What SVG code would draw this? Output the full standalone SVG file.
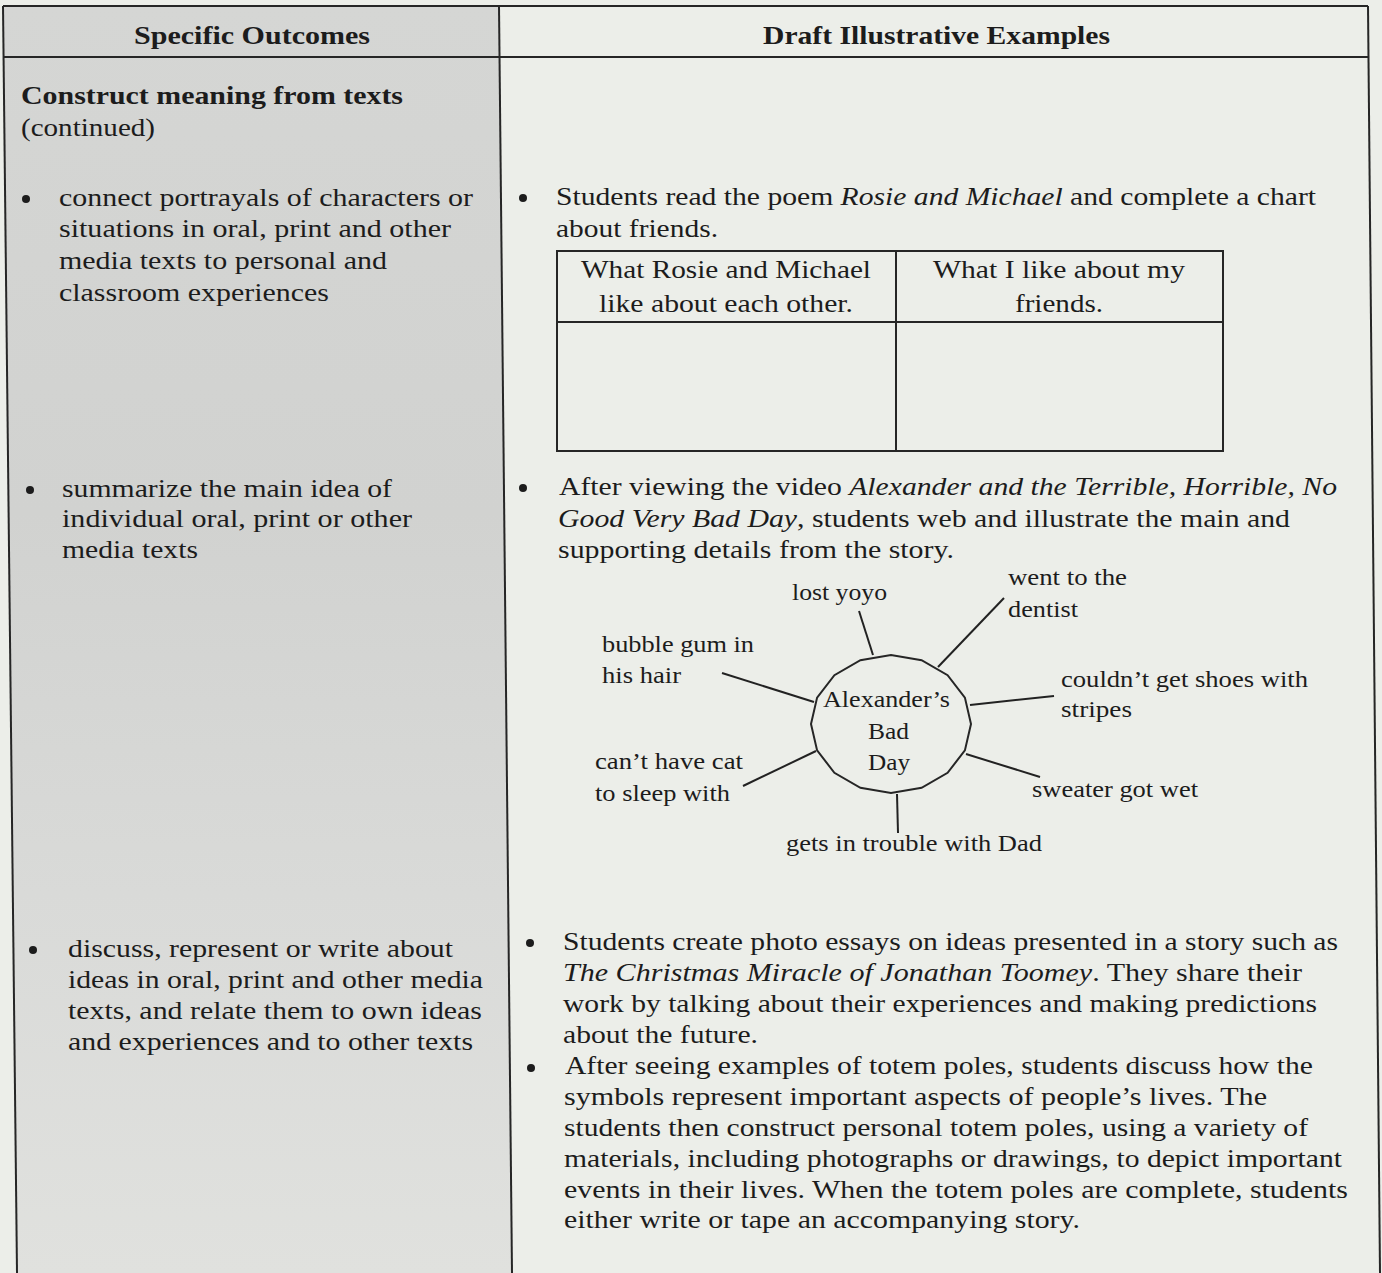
<svg xmlns="http://www.w3.org/2000/svg" width="1382" height="1273" viewBox="0 0 1382 1273">
<style>
text{font-family:"Liberation Serif","Times New Roman",serif;fill:#1c1c1c;}
.b{font-size:26px;}
.h{font-size:26px;font-weight:bold;}
.lbl{font-size:24px;}
.i{font-style:italic;}
.rule{stroke:#262626;stroke-width:2;fill:none;}
.con{stroke:#222;stroke-width:2;fill:none;}
.dot{fill:#1c1c1c;}
</style>
<defs>
<linearGradient id="lg" x1="0" y1="0" x2="0" y2="1">
<stop offset="0" stop-color="#d5d6d4"/>
<stop offset="0.4" stop-color="#d1d2d0"/>
<stop offset="0.7" stop-color="#d9dad8"/>
<stop offset="1" stop-color="#e0e1de"/>
</linearGradient>
</defs>
<rect x="0" y="0" width="1382" height="1273" fill="#eceee9"/>
<polygon points="3,6 499,6 512,1273 17,1273" fill="url(#lg)"/>
<polygon points="499,6 1368,6 1380,1273 512,1273" fill="#eceee9"/>

<g id="table-frame">
<line class="rule" x1="3" y1="6" x2="1368" y2="6"/>
<line class="rule" x1="3" y1="57" x2="1369" y2="57"/>
<line class="rule" x1="3" y1="6" x2="17" y2="1273"/>
<line class="rule" x1="499" y1="6" x2="512" y2="1273"/>
<line class="rule" x1="1368" y1="6" x2="1380" y2="1273"/>
</g>

<g id="header-left">
<text class="h" x="134" y="44" textLength="236" lengthAdjust="spacingAndGlyphs">Specific Outcomes</text>
</g>
<g id="header-right">
<text class="h" x="763" y="44" textLength="347" lengthAdjust="spacingAndGlyphs">Draft Illustrative Examples</text>
</g>

<g id="outcome-heading">
<text class="h" x="21" y="104" textLength="382" lengthAdjust="spacingAndGlyphs">Construct meaning from texts</text>
<text class="b" x="21" y="136" textLength="134" lengthAdjust="spacingAndGlyphs">(continued)</text>
</g>

<g id="outcome-1">
<circle class="dot" cx="26" cy="199" r="4"/>
<text class="b" x="59" y="206" textLength="414" lengthAdjust="spacingAndGlyphs">connect portrayals of characters or</text>
<text class="b" x="59" y="237" textLength="392" lengthAdjust="spacingAndGlyphs">situations in oral, print and other</text>
<text class="b" x="59" y="269" textLength="328" lengthAdjust="spacingAndGlyphs">media texts to personal and</text>
<text class="b" x="59" y="301" textLength="270" lengthAdjust="spacingAndGlyphs">classroom experiences</text>
</g>

<g id="outcome-2">
<circle class="dot" cx="30" cy="490" r="4"/>
<text class="b" x="62" y="497" textLength="330" lengthAdjust="spacingAndGlyphs">summarize the main idea of</text>
<text class="b" x="62" y="527" textLength="350" lengthAdjust="spacingAndGlyphs">individual oral, print or other</text>
<text class="b" x="62" y="558" textLength="136" lengthAdjust="spacingAndGlyphs">media texts</text>
</g>

<g id="outcome-3">
<circle class="dot" cx="33" cy="950" r="4"/>
<text class="b" x="68" y="957" textLength="385" lengthAdjust="spacingAndGlyphs">discuss, represent or write about</text>
<text class="b" x="68" y="988" textLength="415" lengthAdjust="spacingAndGlyphs">ideas in oral, print and other media</text>
<text class="b" x="68" y="1019" textLength="414" lengthAdjust="spacingAndGlyphs">texts, and relate them to own ideas</text>
<text class="b" x="68" y="1050" textLength="405" lengthAdjust="spacingAndGlyphs">and experiences and to other texts</text>
</g>

<g id="example-1">
<circle class="dot" cx="523" cy="198" r="4"/>
<text class="b" x="556" y="205" textLength="760" lengthAdjust="spacingAndGlyphs">Students read the poem <tspan class="i">Rosie and Michael</tspan> and complete a chart</text>
<text class="b" x="556" y="237" textLength="162" lengthAdjust="spacingAndGlyphs">about friends.</text>
</g>

<g id="chart">
<rect class="rule" x="557" y="251" width="666" height="200"/>
<line class="rule" x1="557" y1="322" x2="1223" y2="322"/>
<line class="rule" x1="896" y1="251" x2="896" y2="451"/>
<text class="b" x="581" y="278" textLength="290" lengthAdjust="spacingAndGlyphs">What Rosie and Michael</text>
<text class="b" x="599" y="312" textLength="254" lengthAdjust="spacingAndGlyphs">like about each other.</text>
<text class="b" x="933" y="278" textLength="252" lengthAdjust="spacingAndGlyphs">What I like about my</text>
<text class="b" x="1015" y="312" textLength="88" lengthAdjust="spacingAndGlyphs">friends.</text>
</g>

<g id="example-2">
<circle class="dot" cx="523" cy="488" r="4"/>
<text class="b" x="559" y="495" textLength="778" lengthAdjust="spacingAndGlyphs">After viewing the video <tspan class="i">Alexander and the Terrible, Horrible, No</tspan></text>
<text class="b" x="558" y="527" textLength="732" lengthAdjust="spacingAndGlyphs"><tspan class="i">Good Very Bad Day</tspan>, students web and illustrate the main and</text>
<text class="b" x="558" y="558" textLength="396" lengthAdjust="spacingAndGlyphs">supporting details from the story.</text>
</g>

<g id="web-center">
<polygon class="rule" points="971,724 964.9,750.4 947.6,772.8 921.6,787.8 891,793 860.4,787.8 834.4,772.8 817.1,750.4 811,724 817.1,697.6 834.4,675.2 860.4,660.2 891,655 921.6,660.2 947.6,675.2 964.9,697.6"/>
<text class="lbl" x="823" y="707" textLength="127" lengthAdjust="spacingAndGlyphs">Alexander’s</text>
<text class="lbl" x="868" y="739" textLength="41" lengthAdjust="spacingAndGlyphs">Bad</text>
<text class="lbl" x="868" y="770" textLength="42" lengthAdjust="spacingAndGlyphs">Day</text>
</g>

<g id="web-lost-yoyo">
<text class="lbl" x="792" y="600" textLength="95" lengthAdjust="spacingAndGlyphs">lost yoyo</text>
</g>
<g id="web-dentist">
<text class="lbl" x="1008" y="585" textLength="119" lengthAdjust="spacingAndGlyphs">went to the</text>
<text class="lbl" x="1008" y="617" textLength="70" lengthAdjust="spacingAndGlyphs">dentist</text>
</g>
<g id="web-bubble-gum">
<text class="lbl" x="602" y="652" textLength="152" lengthAdjust="spacingAndGlyphs">bubble gum in</text>
<text class="lbl" x="602" y="683" textLength="79" lengthAdjust="spacingAndGlyphs">his hair</text>
</g>
<g id="web-shoes">
<text class="lbl" x="1061" y="687" textLength="247" lengthAdjust="spacingAndGlyphs">couldn’t get shoes with</text>
<text class="lbl" x="1061" y="717" textLength="71" lengthAdjust="spacingAndGlyphs">stripes</text>
</g>
<g id="web-cat">
<text class="lbl" x="595" y="769" textLength="148" lengthAdjust="spacingAndGlyphs">can’t have cat</text>
<text class="lbl" x="595" y="801" textLength="135" lengthAdjust="spacingAndGlyphs">to sleep with</text>
</g>
<g id="web-sweater">
<text class="lbl" x="1032" y="797" textLength="166" lengthAdjust="spacingAndGlyphs">sweater got wet</text>
</g>
<g id="web-trouble">
<text class="lbl" x="786" y="851" textLength="256" lengthAdjust="spacingAndGlyphs">gets in trouble with Dad</text>
</g>

<g id="connectors">
<line class="con" x1="859" y1="611" x2="873" y2="655"/>
<line class="con" x1="1004" y1="598" x2="938" y2="667"/>
<line class="con" x1="722" y1="673" x2="814" y2="702"/>
<line class="con" x1="970" y1="705" x2="1054" y2="696"/>
<line class="con" x1="743" y1="786" x2="816" y2="751"/>
<line class="con" x1="966" y1="754" x2="1040" y2="777"/>
<line class="con" x1="897" y1="794" x2="898" y2="833"/>
</g>

<g id="example-3">
<circle class="dot" cx="530" cy="943" r="4"/>
<text class="b" x="563" y="950" textLength="775" lengthAdjust="spacingAndGlyphs">Students create photo essays on ideas presented in a story such as</text>
<text class="b" x="563" y="981" textLength="739" lengthAdjust="spacingAndGlyphs"><tspan class="i">The Christmas Miracle of Jonathan Toomey</tspan>. They share their</text>
<text class="b" x="563" y="1012" textLength="754" lengthAdjust="spacingAndGlyphs">work by talking about their experiences and making predictions</text>
<text class="b" x="563" y="1043" textLength="195" lengthAdjust="spacingAndGlyphs">about the future.</text>
</g>

<g id="example-4">
<circle class="dot" cx="531" cy="1068" r="4"/>
<text class="b" x="565" y="1074" textLength="748" lengthAdjust="spacingAndGlyphs">After seeing examples of totem poles, students discuss how the</text>
<text class="b" x="564" y="1105" textLength="703" lengthAdjust="spacingAndGlyphs">symbols represent important aspects of people’s lives. The</text>
<text class="b" x="564" y="1136" textLength="744" lengthAdjust="spacingAndGlyphs">students then construct personal totem poles, using a variety of</text>
<text class="b" x="564" y="1167" textLength="778" lengthAdjust="spacingAndGlyphs">materials, including photographs or drawings, to depict important</text>
<text class="b" x="564" y="1198" textLength="784" lengthAdjust="spacingAndGlyphs">events in their lives. When the totem poles are complete, students</text>
<text class="b" x="564" y="1228" textLength="516" lengthAdjust="spacingAndGlyphs">either write or tape an accompanying story.</text>
</g>
</svg>
